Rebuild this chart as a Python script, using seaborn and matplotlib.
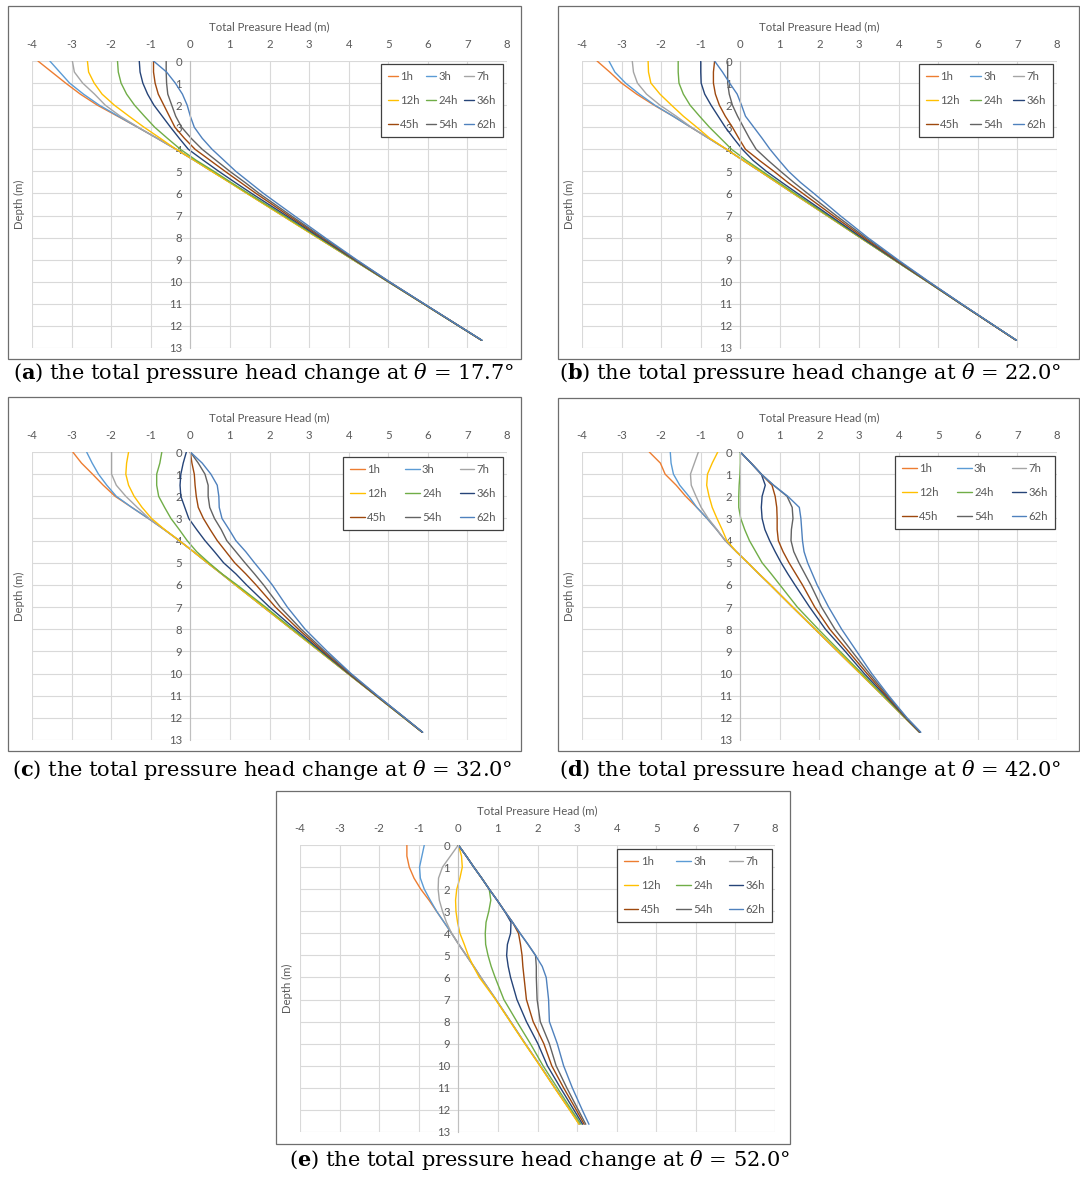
import matplotlib
matplotlib.use("Agg")
import pandas as pd
import matplotlib.pyplot as plt
import seaborn as sns
from matplotlib.patches import Rectangle

TIMES = ["1h", "3h", "7h", "12h", "24h", "36h", "45h", "54h", "62h"]
COLORS = ["#ED7D31", "#5B9BD5", "#A5A5A5", "#FFC000", "#70AD47",
          "#264478", "#9E480E", "#636363", "#4F81BD"]
DEPTH = [0, 0.5, 1, 1.5, 2, 2.5, 3, 3.5, 4, 4.5, 5, 5.5, 6, 7, 8, 9, 10, 11, 12, 12.65]
ANGLES = ["17.7", "22.0", "32.0", "42.0", "52.0"]

# total pressure head (m) at each DEPTH, one list per time step
HEAD_A = [
    [-3.85, -3.5, -3.15, -2.78, -2.35, -1.84, -1.33, -0.84, -0.36, 0.1, 0.55, 1.0, 1.44, 2.33, 3.22, 4.11, 5.0, 5.89, 6.78, 7.36],
    [-3.55, -3.3, -3.05, -2.7, -2.3, -1.82, -1.33, -0.84, -0.36, 0.1, 0.55, 1.0, 1.44, 2.33, 3.22, 4.11, 5.0, 5.89, 6.78, 7.36],
    [-2.98, -2.93, -2.72, -2.42, -2.15, -1.77, -1.32, -0.84, -0.36, 0.1, 0.55, 1.0, 1.44, 2.33, 3.22, 4.11, 5.0, 5.89, 6.78, 7.36],
    [-2.6, -2.57, -2.43, -2.23, -1.92, -1.55, -1.17, -0.76, -0.36, 0.1, 0.54, 0.99, 1.43, 2.32, 3.21, 4.11, 5.0, 5.89, 6.78, 7.36],
    [-1.84, -1.82, -1.75, -1.61, -1.41, -1.16, -0.9, -0.58, -0.25, 0.15, 0.6, 1.03, 1.47, 2.36, 3.24, 4.12, 5.0, 5.89, 6.78, 7.36],
    [-1.29, -1.27, -1.2, -1.08, -0.92, -0.71, -0.5, -0.28, -0.05, 0.33, 0.72, 1.13, 1.55, 2.42, 3.28, 4.14, 5.01, 5.9, 6.78, 7.36],
    [-0.93, -0.93, -0.89, -0.81, -0.67, -0.53, -0.39, -0.15, 0.12, 0.5, 0.88, 1.27, 1.66, 2.48, 3.32, 4.16, 5.02, 5.9, 6.79, 7.36],
    [-0.61, -0.61, -0.6, -0.57, -0.47, -0.37, -0.22, 0.02, 0.3, 0.65, 1.0, 1.38, 1.74, 2.54, 3.35, 4.18, 5.03, 5.9, 6.79, 7.36],
    [-0.93, -0.6, -0.38, -0.2, -0.08, 0.0, 0.1, 0.3, 0.55, 0.85, 1.15, 1.5, 1.85, 2.62, 3.4, 4.2, 5.03, 5.91, 6.79, 7.37],
]
HEAD_B = [
    [-3.62, -3.3, -3.0, -2.62, -2.18, -1.7, -1.25, -0.8, -0.35, 0.07, 0.5, 0.92, 1.34, 2.19, 3.03, 3.88, 4.73, 5.57, 6.42, 6.97],
    [-3.32, -3.17, -2.9, -2.55, -2.16, -1.7, -1.25, -0.8, -0.35, 0.07, 0.5, 0.92, 1.34, 2.19, 3.03, 3.88, 4.73, 5.57, 6.42, 6.97],
    [-2.73, -2.7, -2.6, -2.37, -2.03, -1.62, -1.24, -0.8, -0.35, 0.07, 0.5, 0.92, 1.34, 2.19, 3.03, 3.88, 4.73, 5.57, 6.42, 6.97],
    [-2.33, -2.32, -2.26, -2.03, -1.74, -1.44, -1.1, -0.77, -0.35, 0.07, 0.5, 0.92, 1.34, 2.19, 3.03, 3.88, 4.73, 5.57, 6.42, 6.97],
    [-1.57, -1.57, -1.55, -1.44, -1.27, -1.03, -0.78, -0.5, -0.22, 0.15, 0.56, 0.97, 1.38, 2.21, 3.04, 3.88, 4.73, 5.57, 6.42, 6.97],
    [-1.0, -1.0, -0.99, -0.9, -0.74, -0.56, -0.38, -0.17, 0.05, 0.32, 0.66, 1.05, 1.45, 2.26, 3.07, 3.9, 4.74, 5.57, 6.42, 6.97],
    [-0.65, -0.68, -0.68, -0.63, -0.53, -0.38, -0.2, -0.04, 0.13, 0.48, 0.85, 1.2, 1.58, 2.34, 3.12, 3.92, 4.75, 5.58, 6.42, 6.97],
    [-0.32, -0.32, -0.32, -0.28, -0.2, -0.07, 0.08, 0.23, 0.4, 0.7, 1.02, 1.35, 1.7, 2.42, 3.17, 3.95, 4.76, 5.58, 6.42, 6.97],
    [-0.65, -0.45, -0.27, -0.08, 0.03, 0.13, 0.34, 0.55, 0.75, 0.98, 1.22, 1.52, 1.86, 2.52, 3.22, 3.98, 4.77, 5.59, 6.43, 6.98],
]
HEAD_C = [
    [-2.97, -2.75, -2.47, -2.2, -1.9, -1.48, -1.06, -0.66, -0.28, 0.08, 0.43, 0.79, 1.14, 1.85, 2.56, 3.27, 3.98, 4.69, 5.4, 5.86],
    [-2.62, -2.48, -2.32, -2.11, -1.87, -1.48, -1.06, -0.66, -0.28, 0.08, 0.43, 0.79, 1.14, 1.85, 2.56, 3.27, 3.98, 4.69, 5.4, 5.86],
    [-1.99, -1.99, -1.99, -1.87, -1.63, -1.34, -1.04, -0.66, -0.28, 0.08, 0.43, 0.79, 1.14, 1.85, 2.56, 3.27, 3.98, 4.69, 5.4, 5.86],
    [-1.56, -1.61, -1.63, -1.56, -1.42, -1.22, -0.98, -0.65, -0.28, 0.08, 0.43, 0.79, 1.14, 1.85, 2.56, 3.27, 3.98, 4.69, 5.4, 5.86],
    [-0.72, -0.77, -0.85, -0.85, -0.8, -0.65, -0.49, -0.28, -0.08, 0.16, 0.47, 0.8, 1.18, 1.9, 2.59, 3.29, 3.99, 4.7, 5.4, 5.86],
    [-0.1, -0.18, -0.24, -0.26, -0.24, -0.14, -0.04, 0.16, 0.37, 0.61, 0.84, 1.15, 1.42, 2.0, 2.65, 3.32, 4.0, 4.7, 5.41, 5.86],
    [0.0, 0.04, 0.1, 0.12, 0.15, 0.2, 0.33, 0.5, 0.68, 0.9, 1.12, 1.4, 1.66, 2.15, 2.73, 3.36, 4.02, 4.71, 5.41, 5.86],
    [0.0, 0.2, 0.37, 0.45, 0.45, 0.49, 0.61, 0.78, 0.92, 1.15, 1.38, 1.62, 1.85, 2.27, 2.8, 3.4, 4.04, 4.72, 5.42, 5.87],
    [0.0, 0.3, 0.52, 0.68, 0.72, 0.73, 0.8, 0.98, 1.15, 1.4, 1.62, 1.85, 2.07, 2.45, 2.9, 3.46, 4.06, 4.73, 5.42, 5.87],
]
HEAD_D = [
    [-2.3, -2.02, -1.9, -1.62, -1.38, -1.1, -0.84, -0.6, -0.38, -0.1, 0.19, 0.47, 0.76, 1.32, 1.89, 2.46, 3.03, 3.6, 4.16, 4.53],
    [-1.77, -1.75, -1.69, -1.53, -1.3, -1.1, -0.84, -0.6, -0.38, -0.1, 0.19, 0.47, 0.76, 1.32, 1.89, 2.46, 3.03, 3.6, 4.16, 4.53],
    [-1.06, -1.16, -1.26, -1.24, -1.12, -0.99, -0.81, -0.59, -0.38, -0.1, 0.19, 0.47, 0.76, 1.32, 1.89, 2.46, 3.03, 3.6, 4.16, 4.53],
    [-0.57, -0.71, -0.83, -0.85, -0.79, -0.71, -0.59, -0.46, -0.34, -0.1, 0.19, 0.47, 0.76, 1.32, 1.89, 2.46, 3.03, 3.6, 4.16, 4.53],
    [0.0, 0.0, -0.01, -0.03, -0.04, -0.04, 0.01, 0.11, 0.23, 0.39, 0.55, 0.78, 1.0, 1.44, 1.97, 2.52, 3.07, 3.62, 4.17, 4.53],
    [0.0, 0.27, 0.53, 0.63, 0.55, 0.53, 0.55, 0.62, 0.74, 0.88, 1.03, 1.2, 1.38, 1.75, 2.15, 2.65, 3.13, 3.66, 4.18, 4.53],
    [0.0, 0.27, 0.53, 0.8, 0.88, 0.92, 0.93, 0.93, 0.96, 1.08, 1.23, 1.4, 1.57, 1.88, 2.26, 2.73, 3.2, 3.69, 4.19, 4.54],
    [0.0, 0.27, 0.53, 0.84, 1.18, 1.31, 1.33, 1.29, 1.28, 1.35, 1.48, 1.63, 1.78, 2.05, 2.39, 2.82, 3.26, 3.72, 4.2, 4.55],
    [0.0, 0.27, 0.53, 0.84, 1.2, 1.49, 1.53, 1.55, 1.57, 1.61, 1.7, 1.82, 1.94, 2.23, 2.56, 2.94, 3.32, 3.75, 4.21, 4.56],
]
HEAD_E = [
    [-1.3, -1.3, -1.24, -1.12, -0.95, -0.74, -0.55, -0.36, -0.17, 0.01, 0.2, 0.39, 0.57, 0.95, 1.32, 1.69, 2.07, 2.44, 2.82, 3.06],
    [-0.86, -0.92, -0.98, -0.96, -0.86, -0.71, -0.55, -0.36, -0.17, 0.01, 0.2, 0.39, 0.57, 0.95, 1.32, 1.69, 2.07, 2.44, 2.82, 3.06],
    [0.0, -0.2, -0.4, -0.5, -0.51, -0.48, -0.4, -0.3, -0.17, 0.01, 0.2, 0.39, 0.57, 0.95, 1.32, 1.69, 2.07, 2.44, 2.82, 3.06],
    [0.0, 0.08, 0.1, 0.04, -0.04, -0.07, -0.06, -0.02, 0.04, 0.15, 0.25, 0.38, 0.53, 0.94, 1.31, 1.68, 2.06, 2.43, 2.81, 3.05],
    [0.0, 0.2, 0.39, 0.59, 0.78, 0.82, 0.77, 0.7, 0.68, 0.69, 0.75, 0.83, 0.93, 1.15, 1.48, 1.82, 2.14, 2.5, 2.86, 3.1],
    [0.0, 0.2, 0.39, 0.59, 0.78, 0.98, 1.17, 1.33, 1.32, 1.24, 1.22, 1.26, 1.32, 1.48, 1.72, 2.01, 2.25, 2.58, 2.92, 3.14],
    [0.0, 0.2, 0.39, 0.59, 0.78, 0.98, 1.17, 1.37, 1.52, 1.57, 1.61, 1.63, 1.66, 1.72, 1.89, 2.16, 2.36, 2.66, 2.98, 3.18],
    [0.0, 0.2, 0.39, 0.59, 0.78, 0.98, 1.17, 1.37, 1.56, 1.76, 1.95, 1.97, 1.97, 1.99, 2.07, 2.3, 2.47, 2.74, 3.03, 3.22],
    [0.0, 0.2, 0.39, 0.59, 0.78, 0.98, 1.17, 1.37, 1.56, 1.76, 1.95, 2.12, 2.22, 2.28, 2.3, 2.5, 2.66, 2.88, 3.13, 3.3],
]

W, H = 1080, 1177
GRAY = "#595959"

# layout in pixels: plot area (x0, x1, y0, y1), frame (x0, y0, x1, y1),
# legend upper-right corner, legend column spacing, handle length, caption centre
LAYOUT = [
    ("a", HEAD_A, (32, 507, 61, 348), (8, 6, 521, 359), (503, 64), 0.55, 0.9, (264, 373)),
    ("b", HEAD_B, (582, 1057, 61, 348), (558, 6, 1079, 359), (1053, 64), 0.9, 1.0, (810, 373)),
    ("c", HEAD_C, (32, 507, 452, 740), (8, 397, 521, 751), (503, 457), 1.6, 1.3, (262, 770)),
    ("d", HEAD_D, (582, 1057, 452, 740), (558, 398, 1079, 751), (1055, 456), 1.6, 1.3, (810, 770)),
    ("e", HEAD_E, (300, 775, 845, 1132), (276, 791, 790, 1144), (772, 849), 1.4, 1.3, (540, 1160)),
]

sns.set_theme(style="white")
plt.rcParams["font.family"] = ["Lato", "DejaVu Sans"]
plt.rcParams["mathtext.fontset"] = "dejavuserif"
plt.rcParams["axes.unicode_minus"] = False

fig = plt.figure(figsize=(W / 100, H / 100), dpi=100)
fig.patch.set_facecolor("white")


def draw_panel(letter, heads, box, frame, leg_xy, colspace, handlen, cap_xy, angle):
    x0, x1, y0, y1 = box
    ax = fig.add_axes([x0 / W, 1 - y1 / H, (x1 - x0) / W, (y1 - y0) / H])
    ax.set_facecolor("none")

    rows = []
    for t, col in zip(TIMES, heads):
        for d, h in zip(DEPTH, col):
            rows.append((t, d, h))
    df = pd.DataFrame(rows, columns=["time", "depth", "head"])

    sns.lineplot(data=df, x="head", y="depth", hue="time", hue_order=TIMES,
                 palette=COLORS, sort=False, estimator=None, linewidth=1.0, ax=ax)

    ax.set_xlim(-4, 8)
    ax.set_ylim(13, 0)
    ax.set_xticks(range(-4, 9))
    ax.set_yticks(range(0, 14))
    ax.xaxis.tick_top()
    ax.xaxis.set_label_position("top")
    ax.set_xlabel("Total Preasure Head (m)", fontsize=8.2, color=GRAY, labelpad=6)
    ax.set_ylabel("Depth (m)", fontsize=8.2, color=GRAY)
    ax.yaxis.set_label_coords(-0.015, 0.5)
    ax.tick_params(axis="both", length=0, labelsize=8.2, labelcolor=GRAY)
    ax.tick_params(axis="x", pad=8)
    ax.tick_params(axis="y", pad=6)
    for s in ["top", "right", "bottom"]:
        ax.spines[s].set_visible(False)
    ax.spines["left"].set_position(("data", 0))
    ax.spines["left"].set_color("#BFBFBF")
    ax.spines["left"].set_linewidth(0.8)
    ax.grid(True, color="#D9D9D9", linewidth=0.8)
    ax.set_axisbelow(True)

    old = ax.get_legend()
    handles = list(old.legend_handles)
    labels = [t.get_text() for t in old.get_texts()]
    order = [0, 3, 6, 1, 4, 7, 2, 5, 8]
    leg = ax.legend([handles[i] for i in order], [labels[i] for i in order],
                    ncol=3, loc="upper right",
                    bbox_to_anchor=(leg_xy[0] / W, 1 - leg_xy[1] / H),
                    bbox_transform=fig.transFigure, fontsize=8.2,
                    frameon=True, fancybox=False, framealpha=1, borderaxespad=0,
                    edgecolor="#404040", handlelength=handlen, handletextpad=0.2,
                    columnspacing=colspace, labelspacing=1.15, borderpad=0.6)
    leg.get_frame().set_linewidth(0.9)
    for txt in leg.get_texts():
        txt.set_color(GRAY)
    for hl in leg.legend_handles:
        hl.set_linewidth(1.0)

    fx0, fy0, fx1, fy1 = frame
    fig.add_artist(Rectangle((fx0 / W, 1 - fy1 / H), (fx1 - fx0) / W, (fy1 - fy0) / H,
                             transform=fig.transFigure, fill=False,
                             edgecolor="#6E6E6E", linewidth=0.9))

    fig.text(cap_xy[0] / W, 1 - cap_xy[1] / H,
             r"($\mathbf{" + letter + r"}$) the total pressure head change at $\theta$ = " + angle + "°",
             ha="center", va="center", fontsize=15, family="DejaVu Serif", color="black")


for (letter, heads, box, frame, leg_xy, colspace, handlen, cap_xy), angle in zip(LAYOUT, ANGLES):
    draw_panel(letter, heads, box, frame, leg_xy, colspace, handlen, cap_xy, angle)

fig.savefig("out.png", dpi=100)
